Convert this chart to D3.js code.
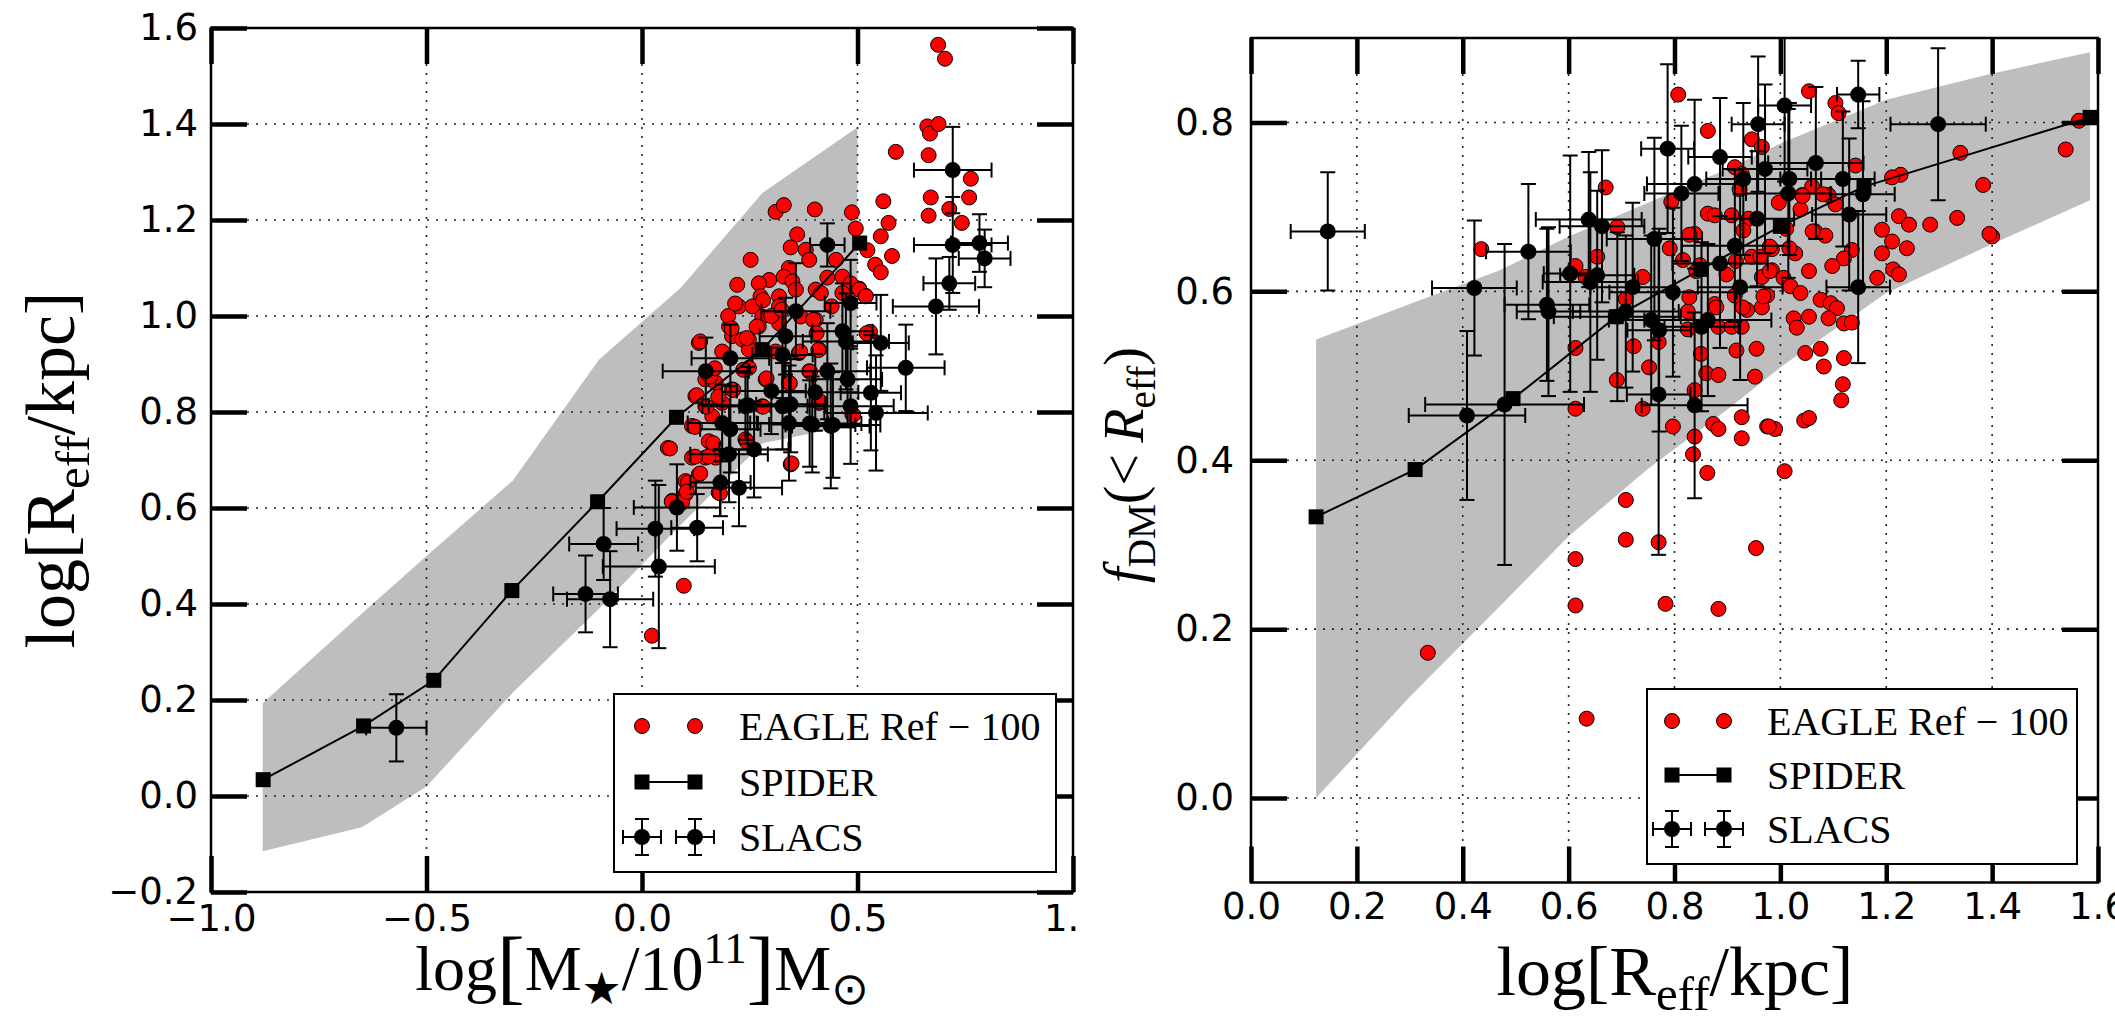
<!DOCTYPE html>
<html>
<head>
<meta charset="utf-8">
<script src="https://cdn.jsdelivr.net/npm/d3@7"></script>
<style>
  body { margin: 0; background: #fff; }
  svg { display: block; }
</style>
</head>
<body>
<svg width="2115" height="1025"></svg>
<script>
// ---- left panel: size vs stellar mass ----
var leftXTicks = [-1.0, -0.5, 0.0, 0.5, 1.0];
var leftYTicks = [-0.2, 0.0, 0.2, 0.4, 0.6, 0.8, 1.0, 1.2, 1.4, 1.6];

var leftBandX  = [-0.88, -0.65, -0.5, -0.3, -0.1, 0.09, 0.28, 0.5];
var leftBandLo = [-0.115, -0.065, 0.02, 0.215, 0.39, 0.565, 0.735, 0.775];
var leftBandHi = [0.193, 0.38, 0.50, 0.657, 0.909, 1.059, 1.257, 1.393];

var leftSpiderX = [-0.879, -0.646, -0.483, -0.302, -0.103, 0.080, 0.279, 0.505];
var leftSpiderY = [0.034, 0.146, 0.241, 0.428, 0.613, 0.789, 0.930, 1.152];

var leftEagle = [
  [0.687,1.565],[0.703,1.536],[0.662,1.395],[0.668,1.38],[0.688,1.40],[0.589,1.342],[0.665,1.335],
  [0.763,1.286],[0.56,1.239],[0.67,1.247],[0.759,1.247],[0.665,1.209],[0.713,1.223],[0.742,1.194],
  [0.487,1.216],[0.496,1.182],[0.572,1.194],[0.554,1.166],[0.523,1.137],[0.58,1.125],[0.541,1.107],
  [0.554,1.091],[0.504,1.057],[0.519,1.042],[0.529,0.967],[0.310,1.217],[0.329,1.231],[0.401,1.222],
  [0.345,1.143],[0.380,1.138],[0.252,1.117],[0.221,1.065],[0.388,1.117],[0.341,1.100],[0.329,1.082],
  [0.349,1.072],[0.295,1.075],[0.271,1.068],[0.275,1.041],[0.318,1.041],[0.357,1.055],[0.403,1.055],
  [0.415,1.048],[0.45,1.117],[0.465,1.082],[0.484,1.068],[0.504,1.055],[0.519,1.041],[0.465,1.048],
  [0.225,1.02],[0.256,1.02],[0.279,0.999],[0.318,1.02],[0.318,0.985],[0.368,0.999],[0.202,0.978],
  [0.209,0.958],[0.271,0.978],[0.233,0.951],[0.248,0.951],[0.403,0.992],[0.132,0.944],[0.186,0.926],
  [0.248,0.93],[0.31,0.926],[0.411,0.93],[0.364,0.923],[0.163,0.885],[0.147,0.868],[0.171,0.861],
  [0.248,0.892],[0.287,0.868],[0.341,0.861],[0.388,0.885],[0.124,0.833],[0.209,0.847],[0.147,0.812],
  [0.186,0.819],[0.279,0.812],[0.411,0.819],[0.488,0.795],[0.116,0.771],[0.163,0.791],[0.24,0.743],
  [0.155,0.739],[0.06,0.725],[0.116,0.705],[0.147,0.705],[0.171,0.705],[0.132,0.67],[0.101,0.656],
  [0.101,0.629],[0.07,0.615],[0.093,0.611],[0.178,0.632],[0.345,0.691],[0.097,0.438],[0.023,0.334],
  [0.43,1.08],[0.44,1.02],[0.30,1.00],[0.36,1.17],[0.20,1.00],
  [0.135,0.947],[0.208,0.974],[0.243,0.954],[0.266,0.978],[0.216,1.026],[0.281,1.033],[0.324,1.013],
  [0.397,0.992],[0.405,0.964],[0.409,0.929],[0.367,0.926],[0.158,0.874],[0.169,0.891],[0.127,0.835],
  [0.177,0.832],[0.212,0.846],[0.150,0.811],[0.123,0.769],[0.165,0.735],[0.154,0.707],[0.123,0.707],
  [0.065,0.724],[0.107,0.653],[0.135,0.672],[0.104,0.634],[0.069,0.613],[0.181,0.631],[0.243,0.738],
  [0.281,0.811],[0.343,0.86],[0.39,0.884],[0.347,0.693],[0.49,0.794],[0.521,0.964],[0.413,0.822],
  [0.235,0.888],[0.289,0.87]
];

// x, y, xerr, yerr
var leftSlacs = [
  [-0.570,0.142,0.07,0.07],[-0.131,0.421,0.075,0.08],[-0.074,0.410,0.10,0.10],[-0.089,0.525,0.08,0.075],
  [0.031,0.557,0.09,0.10],[0.039,0.478,0.13,0.17],[0.081,0.601,0.10,0.09],[0.128,0.559,0.06,0.07],
  [0.148,0.885,0.10,0.07],[0.205,0.912,0.09,0.07],[0.186,0.777,0.08,0.08],[0.205,0.764,0.07,0.09],
  [0.182,0.653,0.07,0.07],[0.225,0.642,0.10,0.08],[0.202,0.712,0.09,0.10],[0.26,0.722,0.08,0.10],
  [0.24,0.812,0.10,0.07],[0.326,0.919,0.07,0.09],[0.333,0.958,0.06,0.08],[0.357,1.010,0.08,0.10],
  [0.326,0.812,0.10,0.09],[0.341,0.777,0.09,0.12],[0.345,0.816,0.08,0.10],[0.395,0.774,0.10,0.10],
  [0.438,0.771,0.09,0.13],[0.430,0.885,0.10,0.10],[0.465,0.968,0.07,0.10],[0.473,0.947,0.10,0.10],
  [0.477,0.868,0.08,0.10],[0.484,1.027,0.06,0.09],[0.484,0.812,0.10,0.12],[0.430,1.148,0.04,0.045],
  [0.531,0.84,0.07,0.12],[0.543,0.798,0.12,0.12],[0.554,0.944,0.065,0.10],[0.612,0.892,0.09,0.09],
  [0.682,1.02,0.10,0.10],[0.713,1.068,0.06,0.055],[0.721,1.304,0.09,0.09],[0.721,1.148,0.09,0.10],
  [0.783,1.152,0.066,0.06],[0.795,1.12,0.06,0.06],[0.402,0.841,0.10,0.08],[0.389,0.776,0.12,0.09],
  [0.443,0.773,0.11,0.11],[0.30,0.844,0.08,0.09],[0.245,0.814,0.09,0.08]
];

// ---- right panel: dark matter fraction vs size ----
var rightXTicks = [0.0, 0.2, 0.4, 0.6, 0.8, 1.0, 1.2, 1.4, 1.6];
var rightYTicks = [0.0, 0.2, 0.4, 0.6, 0.8];

var rightBandX  = [0.123, 0.3, 0.47, 0.6, 0.75, 0.9, 1.0, 1.2, 1.4, 1.585];
var rightBandLo = [0.0, 0.12, 0.227, 0.31, 0.39, 0.46, 0.51, 0.598, 0.656, 0.708];
var rightBandHi = [0.543, 0.585, 0.625, 0.665, 0.705, 0.745, 0.775, 0.827, 0.858, 0.883];

var rightSpiderX = [0.123, 0.310, 0.495, 0.69, 0.85, 1.0, 1.158, 1.585];
var rightSpiderY = [0.333, 0.389, 0.473, 0.57, 0.626, 0.677, 0.724, 0.806];

var rightEagle = [
  [0.334,0.172],[0.634,0.094],[0.613,0.228],[0.613,0.283],[0.783,0.23],[0.883,0.224],[0.708,0.306],
  [0.708,0.353],[0.77,0.303],[0.954,0.296],[0.862,0.385],[1.008,0.387],[0.835,0.407],[0.838,0.428],
  [0.873,0.443],[0.883,0.437],[0.927,0.451],[0.927,0.426],[0.975,0.44],[0.99,0.437],[1.045,0.447],
  [1.054,0.45],[1.115,0.471],[1.118,0.49],[1.12,0.521],[1.082,0.511],[1.076,0.532],[1.047,0.527],
  [0.613,0.461],[0.613,0.533],[0.74,0.461],[0.797,0.44],[0.838,0.483],[0.752,0.51],[0.691,0.495],
  [0.723,0.535],[0.77,0.54],[0.708,0.591],[0.86,0.503],[0.883,0.501],[0.952,0.499],[0.955,0.532],
  [0.917,0.53],[0.85,0.526],[0.825,0.555],[0.825,0.576],[0.883,0.558],[0.908,0.558],[0.927,0.558],
  [0.876,0.585],[0.937,0.578],[0.965,0.581],[0.975,0.595],[0.914,0.595],[0.946,0.641],[0.962,0.641],
  [0.984,0.65],[0.984,0.625],[0.965,0.617],[0.908,0.69],[0.94,0.686],[0.93,0.672],[0.914,0.747],
  [0.927,0.739],[0.946,0.78],[0.965,0.771],[0.863,0.79],[0.807,0.833],[0.838,0.668],[0.816,0.637],
  [0.848,0.631],[0.794,0.706],[0.863,0.692],[0.435,0.65],[0.67,0.723],[0.692,0.676],[0.654,0.641],
  [0.613,0.63],[0.632,0.617],[0.74,0.617],[1.054,0.837],[1.104,0.823],[1.11,0.811],[1.142,0.749],
  [1.34,0.764],[1.383,0.726],[1.227,0.738],[1.211,0.735],[1.283,0.679],[1.334,0.687],[1.224,0.689],
  [1.243,0.679],[1.4,0.665],[1.395,0.668],[1.192,0.673],[1.211,0.659],[1.239,0.651],[1.192,0.645],
  [1.213,0.626],[1.224,0.62],[1.183,0.616],[1.135,0.649],[1.12,0.639],[1.098,0.63],[1.066,0.671],
  [1.085,0.666],[1.06,0.724],[1.041,0.714],[1.091,0.714],[1.104,0.703],[0.997,0.705],[1.038,0.697],
  [0.98,0.653],[1.028,0.645],[1.054,0.624],[0.98,0.624],[1.006,0.616],[1.019,0.606],[0.968,0.594],
  [1.038,0.598],[1.076,0.59],[1.095,0.586],[1.107,0.58],[1.091,0.568],[1.12,0.562],[1.135,0.563],
  [1.025,0.568],[1.054,0.57],[1.031,0.557],[1.539,0.768],[1.564,0.802],[0.978,0.44],[1.011,0.674],
  [1.061,0.671],[1.017,0.651],[1.042,0.713],[1.08,0.715],[0.879,0.581],[0.929,0.581],[0.916,0.636],
  [0.898,0.62],[0.828,0.593],[0.841,0.624],[0.791,0.651],[0.828,0.667],[0.876,0.69],[0.923,0.721]
];

var rightSlacs = [
  [0.145,0.671,0.07,0.07],[0.408,0.453,0.11,0.10],[0.422,0.604,0.08,0.08],[0.479,0.466,0.15,0.19],
  [0.524,0.647,0.08,0.08],[0.559,0.584,0.08,0.09],[0.562,0.576,0.06,0.10],[0.603,0.621,0.05,0.14],
  [0.638,0.685,0.10,0.08],[0.663,0.677,0.08,0.09],[0.654,0.619,0.07,0.10],[0.641,0.611,0.09,0.13],
  [0.692,0.570,0.12,0.10],[0.708,0.576,0.10,0.09],[0.721,0.605,0.08,0.10],[0.762,0.662,0.09,0.12],
  [0.787,0.769,0.05,0.10],[0.797,0.599,0.12,0.10],[0.756,0.566,0.08,0.10],[0.771,0.554,0.06,0.12],
  [0.770,0.478,0.06,0.19],[0.838,0.465,0.10,0.11],[0.813,0.716,0.07,0.08],[0.838,0.727,0.09,0.10],
  [0.886,0.759,0.06,0.07],[0.914,0.654,0.10,0.09],[0.924,0.605,0.08,0.11],[0.886,0.633,0.09,0.10],
  [0.863,0.566,0.12,0.09],[0.851,0.558,0.07,0.10],[0.956,0.686,0.07,0.08],[0.971,0.745,0.08,0.10],
  [0.958,0.798,0.05,0.08],[1.008,0.820,0.05,0.09],[1.017,0.733,0.06,0.09],[1.015,0.716,0.08,0.10],
  [1.067,0.752,0.09,0.09],[1.118,0.733,0.06,0.08],[1.13,0.691,0.07,0.09],[1.147,0.833,0.04,0.04],
  [1.147,0.605,0.06,0.09],[1.156,0.715,0.06,0.11],[1.298,0.798,0.09,0.09],[0.93,0.733,0.07,0.09]
];

var legendLabels = ["EAGLE Ref \u2212 100", "SPIDER", "SLACS"];

var svg = d3.select("svg");
var serif = "'Liberation Serif', 'DejaVu Serif', serif";
var sans = "'DejaVu Sans', sans-serif";

function fmt(v) { return d3.format(".1f")(v).replace("-", "\u2212"); }

// text with sub/superscript pieces
function mathText(sel, parts, size) {
  var shift = 0;
  parts.forEach(function(p) {
    var t = sel.append("tspan").text(p.t);
    var target = 0;
    if (p.sub) { target = size * 0.22; t.attr("font-size", size * 0.7); }
    if (p.sup) { target = -size * 0.42; t.attr("font-size", size * 0.7); }
    if (p.big) { target = size * 0.06; t.attr("font-size", size * p.big); }
    if (p.italic) t.attr("font-style", "italic");
    if (p.font) t.attr("font-family", p.font);
    t.attr("dy", target - shift);
    shift = target;
  });
}

function drawPanel(cfg) {
  var x = cfg.x, y = cfg.y;
  var xl = x.range()[0], xr = x.range()[1], yt = y.range()[1], yb = y.range()[0];
  var g = svg.append("g");

  g.append("clipPath").attr("id", cfg.id)
    .append("rect").attr("x", xl).attr("y", yt).attr("width", xr - xl).attr("height", yb - yt);
  var plot = g.append("g").attr("clip-path", "url(#" + cfg.id + ")");

  // grey band
  var area = d3.area()
    .x(function(i) { return x(cfg.bandX[i]); })
    .y0(function(i) { return y(cfg.bandLo[i]); })
    .y1(function(i) { return y(cfg.bandHi[i]); });
  plot.append("path").datum(d3.range(cfg.bandX.length))
    .attr("d", area).attr("fill", "#bebebe");

  // dotted grid
  plot.append("g").selectAll("line").data(cfg.xTicks).enter().append("line")
    .attr("x1", function(d) { return x(d); }).attr("x2", function(d) { return x(d); })
    .attr("y1", yt).attr("y2", yb);
  plot.append("g").selectAll("line").data(cfg.yTicks).enter().append("line")
    .attr("y1", function(d) { return y(d); }).attr("y2", function(d) { return y(d); })
    .attr("x1", xl).attr("x2", xr);
  plot.selectAll("line").attr("stroke", "#222").attr("stroke-width", 1.6)
    .attr("stroke-dasharray", "2,7");

  // EAGLE
  plot.append("g").selectAll("circle").data(cfg.eagle).enter().append("circle")
    .attr("cx", function(d) { return x(d[0]); })
    .attr("cy", function(d) { return y(d[1]); })
    .attr("r", 7.5).attr("fill", "#ff0000").attr("stroke", "#000").attr("stroke-width", 1);

  // SPIDER
  var sp = d3.range(cfg.spiderX.length);
  plot.append("path").datum(sp)
    .attr("d", d3.line().x(function(i) { return x(cfg.spiderX[i]); }).y(function(i) { return y(cfg.spiderY[i]); }))
    .attr("fill", "none").attr("stroke", "#000").attr("stroke-width", 2);
  plot.append("g").selectAll("rect").data(sp).enter().append("rect")
    .attr("x", function(i) { return x(cfg.spiderX[i]) - 7.5; })
    .attr("y", function(i) { return y(cfg.spiderY[i]) - 7.5; })
    .attr("width", 15).attr("height", 15).attr("fill", "#000");

  // SLACS with error bars
  var eb = plot.append("g").attr("stroke", "#000").attr("stroke-width", 2).attr("fill", "none");
  var cap = 7.5;
  cfg.slacs.forEach(function(d) {
    var cx = x(d[0]), cy = y(d[1]);
    var xa = x(d[0] - d[2]), xb = x(d[0] + d[2]);
    var ya = y(d[1] + d[3]), yb2 = y(d[1] - d[3]);
    eb.append("line").attr("x1", xa).attr("x2", xb).attr("y1", cy).attr("y2", cy);
    eb.append("line").attr("x1", cx).attr("x2", cx).attr("y1", ya).attr("y2", yb2);
    eb.append("line").attr("x1", xa).attr("x2", xa).attr("y1", cy - cap).attr("y2", cy + cap);
    eb.append("line").attr("x1", xb).attr("x2", xb).attr("y1", cy - cap).attr("y2", cy + cap);
    eb.append("line").attr("x1", cx - cap).attr("x2", cx + cap).attr("y1", ya).attr("y2", ya);
    eb.append("line").attr("x1", cx - cap).attr("x2", cx + cap).attr("y1", yb2).attr("y2", yb2);
  });
  plot.append("g").selectAll("circle").data(cfg.slacs).enter().append("circle")
    .attr("cx", function(d) { return x(d[0]); })
    .attr("cy", function(d) { return y(d[1]); })
    .attr("r", 8).attr("fill", "#000");

  // axes: inward ticks on four sides
  var tl = 36;
  var axB = g.append("g").attr("transform", "translate(0," + yb + ")")
    .call(d3.axisBottom(x).tickValues(cfg.xTicks).tickFormat(fmt).tickSizeInner(-tl).tickSizeOuter(0).tickPadding(cfg.xPad));
  var axT = g.append("g").attr("transform", "translate(0," + yt + ")")
    .call(d3.axisTop(x).tickValues(cfg.xTicks).tickFormat("").tickSizeInner(-tl).tickSizeOuter(0));
  var axL = g.append("g").attr("transform", "translate(" + xl + ",0)")
    .call(d3.axisLeft(y).tickValues(cfg.yTicks).tickFormat(fmt).tickSizeInner(-tl).tickSizeOuter(0).tickPadding(cfg.yPad));
  var axR = g.append("g").attr("transform", "translate(" + xr + ",0)")
    .call(d3.axisRight(y).tickValues(cfg.yTicks).tickFormat("").tickSizeInner(-tl).tickSizeOuter(0));
  [axB, axT, axL, axR].forEach(function(a) {
    a.select(".domain").remove();
    a.selectAll(".tick line").attr("stroke", "#000").attr("stroke-width", 4.5);
    a.selectAll(".tick text").attr("font-family", sans).attr("font-size", 37).attr("fill", "#000");
  });
  g.append("rect").attr("x", xl).attr("y", yt).attr("width", xr - xl).attr("height", yb - yt)
    .attr("fill", "none").attr("stroke", "#000").attr("stroke-width", 2.5);

  // legend
  var L = cfg.legend;
  var lg = g.append("g");
  lg.append("rect").attr("x", L.x).attr("y", L.y).attr("width", L.w).attr("height", L.h)
    .attr("fill", "#fff").attr("stroke", "#000").attr("stroke-width", 2);
  var mx = [L.m1, L.m2];
  mx.forEach(function(m) {
    lg.append("circle").attr("cx", m).attr("cy", L.rows[0]).attr("r", 7.5)
      .attr("fill", "#ff0000").attr("stroke", "#000").attr("stroke-width", 1);
  });
  lg.append("line").attr("x1", L.m1).attr("x2", L.m2).attr("y1", L.rows[1]).attr("y2", L.rows[1])
    .attr("stroke", "#000").attr("stroke-width", 2);
  mx.forEach(function(m) {
    lg.append("rect").attr("x", m - 7.5).attr("y", L.rows[1] - 7.5).attr("width", 15).attr("height", 15).attr("fill", "#000");
    var r = L.rows[2];
    var s = lg.append("g").attr("stroke", "#000").attr("stroke-width", 2);
    s.append("line").attr("x1", m - 19).attr("x2", m + 19).attr("y1", r).attr("y2", r);
    s.append("line").attr("x1", m).attr("x2", m).attr("y1", r - 18).attr("y2", r + 18);
    s.append("line").attr("x1", m - 19).attr("x2", m - 19).attr("y1", r - 7).attr("y2", r + 7);
    s.append("line").attr("x1", m + 19).attr("x2", m + 19).attr("y1", r - 7).attr("y2", r + 7);
    s.append("line").attr("x1", m - 7).attr("x2", m + 7).attr("y1", r - 18).attr("y2", r - 18);
    s.append("line").attr("x1", m - 7).attr("x2", m + 7).attr("y1", r + 18).attr("y2", r + 18);
    lg.append("circle").attr("cx", m).attr("cy", r).attr("r", 8).attr("fill", "#000");
  });
  legendLabels.forEach(function(t, i) {
    lg.append("text").attr("x", L.tx).attr("y", L.rows[i] + 14)
      .attr("font-family", serif).attr("font-size", 40).text(t);
  });
  return g;
}

// left panel
drawPanel({
  id: "clipL",
  x: d3.scaleLinear().domain([-1, 1]).range([211, 1073]),
  y: d3.scaleLinear().domain([-0.2, 1.6]).range([892, 28]),
  xTicks: leftXTicks, yTicks: leftYTicks, xPad: 13, yPad: 13,
  bandX: leftBandX, bandLo: leftBandLo, bandHi: leftBandHi,
  eagle: leftEagle, spiderX: leftSpiderX, spiderY: leftSpiderY, slacs: leftSlacs,
  legend: { x: 614, y: 694, w: 442, h: 178, m1: 642, m2: 695, tx: 739, rows: [726, 782, 837] }
});

var ylab = svg.append("text").attr("transform", "translate(74,470) rotate(-90)")
  .attr("text-anchor", "middle").attr("font-family", serif).attr("font-size", 70);
mathText(ylab, [{ t: "log[R" }, { t: "eff", sub: true }, { t: "/kpc]" }], 70);

var xlab = svg.append("text").attr("x", 642).attr("y", 990)
  .attr("text-anchor", "middle").attr("font-family", serif).attr("font-size", 64);
mathText(xlab, [{ t: "log" }, { t: "[", big: 1.3 }, { t: "M" }, { t: "\u2605", sub: true, font: "'DejaVu Sans'" },
  { t: "/10" }, { t: "11", sup: true }, { t: "]", big: 1.3 }, { t: "M" }, { t: "\u2299", sub: true, font: "'DejaVu Sans'" }], 64);

// white backdrop of the right figure covers the left panel's last tick label
svg.append("rect").attr("x", 1078).attr("y", 0).attr("width", 1037).attr("height", 1025).attr("fill", "#fff");

// right panel
drawPanel({
  id: "clipR",
  x: d3.scaleLinear().domain([0, 1.6]).range([1251, 2098]),
  y: d3.scaleLinear().domain([-0.1, 0.9]).range([882.5, 38]),
  xTicks: rightXTicks, yTicks: rightYTicks, xPad: 10, yPad: 17,
  bandX: rightBandX, bandLo: rightBandLo, bandHi: rightBandHi,
  eagle: rightEagle, spiderX: rightSpiderX, spiderY: rightSpiderY, slacs: rightSlacs,
  legend: { x: 1647, y: 689, w: 430, h: 175, m1: 1672, m2: 1724, tx: 1767, rows: [721, 775, 829] }
});

var ylab2 = svg.append("text").attr("transform", "translate(1143,465) rotate(-90)")
  .attr("text-anchor", "middle").attr("font-family", serif).attr("font-size", 56);
mathText(ylab2, [{ t: "f", italic: true }, { t: "DM", sub: true }, { t: "(<\u2009" }, { t: "R", italic: true },
  { t: "eff", sub: true }, { t: ")" }], 56);

var xlab2 = svg.append("text").attr("x", 1675).attr("y", 995)
  .attr("text-anchor", "middle").attr("font-family", serif).attr("font-size", 70);
mathText(xlab2, [{ t: "log[R" }, { t: "eff", sub: true }, { t: "/kpc]" }], 70);
</script>
</body>
</html>
